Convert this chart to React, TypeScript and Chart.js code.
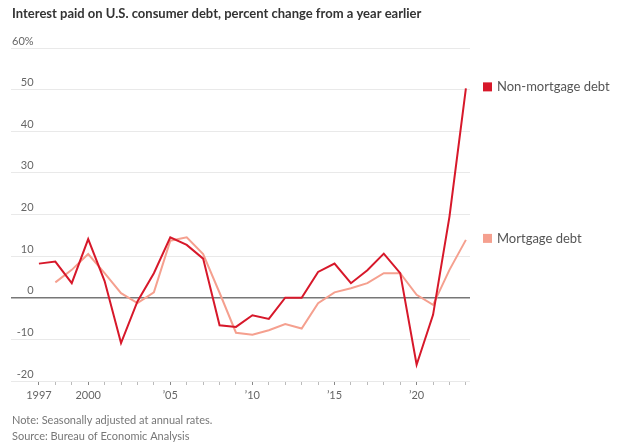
import React, { useEffect, useRef } from 'react';
import { Chart, registerables } from 'chart.js';

Chart.register(...registerables);

const TITLE = 'Interest paid on U.S. consumer debt, percent change from a year earlier';
const NOTE = 'Note: Seasonally adjusted at annual rates.';
const SOURCE = 'Source: Bureau of Economic Analysis';

const years = [1997, 1998, 1999, 2000, 2001, 2002, 2003, 2004, 2005, 2006, 2007, 2008, 2009, 2010, 2011, 2012, 2013, 2014, 2015, 2016, 2017, 2018, 2019, 2020, 2021, 2022, 2023];
const nonMortgage = [8.2, 8.7, 3.5, 14.1, 4.0, -10.9, -0.9, 5.9, 14.5, 12.7, 9.4, -6.6, -7.0, -4.2, -5.1, 0, 0, 6.2, 8.2, 3.5, 6.6, 10.6, 5.9, -16.1, -4.1, 19.5, 50.3];
const mortgage = [null, 3.7, 6.7, 10.5, 5.9, 1.1, -1.3, 1.3, 13.7, 14.5, 10.5, 1.2, -8.4, -8.9, -7.8, -6.3, -7.4, -1.3, 1.3, 2.3, 3.5, 5.9, 5.9, 0.7, -1.7, 6.7, 13.9];
const seriesNames = ['Non-mortgage debt', 'Mortgage debt'];
const seriesColors = ['#d7182a', '#f5a08f'];
const yTicks = [-20, -10, 0, 10, 20, 30, 40, 50, 60];
const xTickLabels: Record<number, string> = { 1997: '1997', 2000: '2000', 2005: '\u201905', 2010: '\u201910', 2015: '\u201915', 2020: '\u201920' };

const FONT = 'Lato, "Noto Sans", sans-serif';

const decor = {
  id: 'decor',
  afterDraw(chart: any) {
    const ctx = chart.ctx;
    const area = chart.chartArea;
    ctx.save();
    ctx.textAlign = 'left';
    ctx.textBaseline = 'alphabetic';
    ctx.fillStyle = '#333';
    ctx.font = `bold 13px ${FONT}`;
    ctx.fillText(TITLE, 12, 18);
    ctx.fillStyle = '#777';
    ctx.font = `11px ${FONT}`;
    ctx.textBaseline = 'middle';
    ctx.fillText(NOTE, 12, 420);
    ctx.fillText(SOURCE, 12, 436);
    chart.data.datasets.forEach((ds: any, i: number) => {
      const meta = chart.getDatasetMeta(i);
      const pt = meta.data[meta.data.length - 1];
      const y = pt.y - 1.5;
      ctx.fillStyle = seriesColors[i];
      ctx.fillRect(area.right + 13, y - 4.5, 9, 9);
      ctx.fillStyle = '#555';
      ctx.font = `13px ${FONT}`;
      ctx.fillText(seriesNames[i], area.right + 27, y);
    });
    ctx.restore();
  },
};

export default function App() {
  const ref = useRef<HTMLCanvasElement>(null);
  useEffect(() => {
    if (!ref.current) return;
    const chart = new Chart(ref.current, {
      type: 'line',
      data: {
        datasets: [
          {
            label: seriesNames[0],
            data: years.map((x, i) => ({ x, y: nonMortgage[i] })),
            borderColor: seriesColors[0],
            borderWidth: 2,
            pointRadius: 0,
            tension: 0,
            order: 0,
          },
          {
            label: seriesNames[1],
            data: years.map((x, i) => ({ x, y: mortgage[i] })),
            borderColor: seriesColors[1],
            borderWidth: 2,
            pointRadius: 0,
            tension: 0,
            order: 1,
          },
        ],
      },
      options: {
        responsive: false,
        animation: false,
        layout: { padding: { left: 11, right: 170, top: 48, bottom: 42 } },
        plugins: { legend: { display: false }, tooltip: { enabled: false }, title: { display: false } },
        scales: {
          x: {
            type: 'linear',
            min: 1995.3,
            max: 2023.25,
            afterBuildTicks: (s: any) => {
              s.ticks = years.map((v) => ({ value: v }));
            },
            afterFit: (s: any) => {
              s.height = 25;
            },
            border: { display: false },
            grid: {
              drawOnChartArea: false,
              drawTicks: true,
              tickLength: 4,
              tickColor: (c: any) => (c.tick && xTickLabels[c.tick.value] ? '#888' : '#bbb'),
            },
            ticks: {
              autoSkip: false,
              maxRotation: 0,
              padding: 4,
              color: '#666',
              font: { family: FONT, size: 11 },
              callback: (v: any) => xTickLabels[v] ?? '',
            },
          },
          y: {
            type: 'linear',
            min: -20,
            max: 60,
            afterBuildTicks: (s: any) => {
              s.ticks = yTicks.map((v) => ({ value: v }));
            },
            afterFit: (s: any) => {
              s.width = 0;
            },
            border: { display: false },
            grid: {
              drawTicks: false,
              color: (c: any) => (c.tick && c.tick.value === 0 ? '#777' : '#e9e9e9'),
              lineWidth: (c: any) => (c.tick && c.tick.value === 0 ? 1.5 : 1),
            },
            ticks: {
              mirror: true,
              crossAlign: 'far',
              padding: 1,
              labelOffset: -7,
              color: '#666',
              font: { family: FONT, size: 11 },
              callback: (v: any) => (v === 60 ? '60%' : String(v)),
            },
          },
        },
      },
      plugins: [decor],
    });
    return () => chart.destroy();
  }, []);
  return (
    <div style={{ position: 'fixed', left: 0, top: 0, width: 640, height: 448, background: '#fff' }}>
      <canvas ref={ref} width={640} height={448} />
    </div>
  );
}
